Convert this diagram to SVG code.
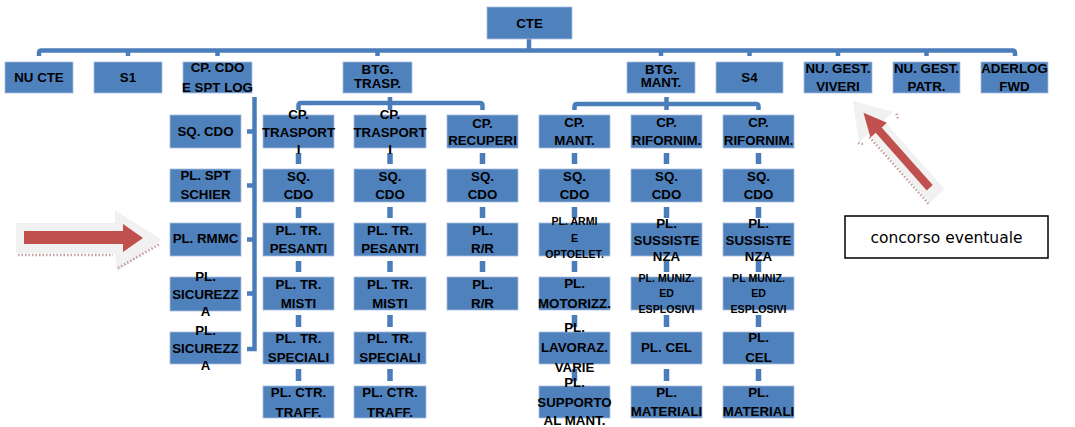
<svg xmlns="http://www.w3.org/2000/svg" width="1075" height="427" viewBox="0 0 1075 427">
<style>
.box{fill:#4F81BD;stroke:#A7BEDD;stroke-width:0.8}
.t{font-family:"Liberation Sans",Arial,sans-serif;font-weight:bold;font-size:13.3px;text-anchor:middle;fill:#000}
.s{font-size:10.6px}
.c{fill:none;stroke:#4A7DBA;stroke-width:4.5}
.v{stroke:#4A7DBA;stroke-width:5.5}
.n{font-family:"DejaVu Sans",Verdana,sans-serif;font-size:15.5px;text-anchor:middle;fill:#000}
</style>
<rect width="1075" height="427" fill="#fff"/>
<g id="connectors">
<path class="c" d="M39,56 V53 Q39,50.5 41.5,50.5 H1012.5 Q1015,50.5 1015,53 V56"/>
<path class="c" d="M529,39 V50 M128,50 V56 M217.5,50 V56 M377.5,50 V56 M661,50 V56 M749.5,50 V56 M838,50 V56 M926.5,50 V56"/>
<path class="c" d="M254.5,97 V349 H247 M247,131.5 H254.5 M247,185.5 H254.5 M247,239.5 H254.5 M247,293.5 H254.5"/>
<path class="c" d="M298.5,110 V105.5 Q298.5,103 301,103 H480 Q482.5,103 482.5,105.5 V110 M390,97 V110"/>
<path class="c" d="M574.5,110 V106.5 Q574.5,104 577,104 H756 Q758.5,104 758.5,106.5 V110 M666.5,97 V110"/>
<path class="v" d="M298.5,153 V164 M298.5,207 V218 M298.5,261 V272 M298.5,315 V327 M298.5,369 V381"/>
<path class="v" d="M390,153 V164 M390,207 V218 M390,261 V272 M390,315 V327 M390,369 V381"/>
<path class="v" d="M482.5,153 V164 M482.5,207 V218 M482.5,261 V272"/>
<path class="v" d="M574.5,153 V164 M574.5,207 V218 M574.5,261 V272 M574.5,315 V327 M574.5,369 V381"/>
<path class="v" d="M666.5,153 V164 M666.5,207 V218 M666.5,261 V272 M666.5,315 V327 M666.5,369 V381"/>
<path class="v" d="M758.5,153 V164 M758.5,207 V218 M758.5,261 V272 M758.5,315 V327 M758.5,369 V381"/>
</g>
<g id="cte"><rect class="box" x="487" y="7" width="85" height="32"/><text class="t" x="529.5" y="27.7">CTE</text></g>
<g id="nucte"><rect class="box" x="5" y="62" width="68" height="31"/><text class="t" x="39" y="82">NU CTE</text></g>
<g id="s1"><rect class="box" x="94" y="62" width="68" height="31"/><text class="t" x="128" y="82">S1</text></g>
<g id="cpcdo"><rect class="box" x="183" y="62" width="69" height="31"/><text class="t" x="217.5" y="72">CP. CDO</text><text class="t" x="217.5" y="91.5">E SPT LOG</text></g>
<g id="btgtrasp"><rect class="box" x="343" y="62" width="69" height="31"/><text class="t" x="377.5" y="74">BTG.</text><text class="t" x="377.5" y="87.5">TRASP.</text></g>
<g id="btgmant"><rect class="box" x="627" y="62" width="68" height="31"/><text class="t" x="661" y="73.5">BTG.</text><text class="t" x="661" y="86.5">MANT.</text></g>
<g id="s4"><rect class="box" x="716" y="62" width="67" height="31"/><text class="t" x="749.5" y="82">S4</text></g>
<g id="viveri"><rect class="box" x="804" y="62" width="68" height="31"/><text class="t" x="838" y="73.3">NU. GEST.</text><text class="t" x="838" y="90.6">VIVERI</text></g>
<g id="patr"><rect class="box" x="893" y="62" width="67" height="31"/><text class="t" x="926.5" y="73.3">NU. GEST.</text><text class="t" x="926.5" y="90.6">PATR.</text></g>
<g id="aderlog"><rect class="box" x="981" y="62" width="67" height="31"/><text class="t" x="1014.5" y="73.3">ADERLOG</text><text class="t" x="1014.5" y="90.6">FWD</text></g>

<g id="l1"><rect class="box" x="170" y="115" width="71" height="33"/><text class="t" x="205.5" y="136">SQ. CDO</text></g>
<g id="l2"><rect class="box" x="170" y="169" width="71" height="33"/><text class="t" x="205.5" y="179.7">PL. SPT</text><text class="t" x="205.5" y="198.7">SCHIER</text></g>
<g id="l3"><rect class="box" x="170" y="223" width="71" height="33"/><text class="t" x="205.5" y="242.7">PL. RMMC</text></g>
<g id="l4"><rect class="box" x="170" y="277" width="71" height="34"/><text class="t" x="205.5" y="281">PL.</text><text class="t" x="205.5" y="298.5">SICUREZZ</text><text class="t" x="205.5" y="316">A</text></g>
<g id="l5"><rect class="box" x="170" y="332" width="71" height="32"/><text class="t" x="205.5" y="335">PL.</text><text class="t" x="205.5" y="352.5">SICUREZZ</text><text class="t" x="205.5" y="370">A</text></g>

<g id="a1"><rect class="box" x="263" y="115" width="71" height="33"/><text class="t" x="298.5" y="119">CP.</text><text class="t" x="298.5" y="136.5">TRASPORT</text><text class="t" x="298.5" y="153.5">I</text></g>
<g id="a2"><rect class="box" x="263" y="169" width="71" height="33"/><text class="t" x="298.5" y="180.7">SQ.</text><text class="t" x="298.5" y="198.7">CDO</text></g>
<g id="a3"><rect class="box" x="263" y="223" width="71" height="33"/><text class="t" x="298.5" y="234.7">PL. TR.</text><text class="t" x="298.5" y="252.7">PESANTI</text></g>
<g id="a4"><rect class="box" x="263" y="277" width="71" height="33"/><text class="t" x="298.5" y="288.7">PL. TR.</text><text class="t" x="298.5" y="307.7">MISTI</text></g>
<g id="a5"><rect class="box" x="263" y="332" width="71" height="32"/><text class="t" x="298.5" y="342.7">PL. TR.</text><text class="t" x="298.5" y="361.7">SPECIALI</text></g>
<g id="a6"><rect class="box" x="263" y="386" width="71" height="32"/><text class="t" x="298.5" y="396.7">PL. CTR.</text><text class="t" x="298.5" y="416.7">TRAFF.</text></g>

<g id="b1"><rect class="box" x="354" y="115" width="72" height="33"/><text class="t" x="390" y="119">CP.</text><text class="t" x="390" y="136.5">TRASPORT</text><text class="t" x="390" y="153.5">I</text></g>
<g id="b2"><rect class="box" x="354" y="169" width="72" height="33"/><text class="t" x="390" y="180.7">SQ.</text><text class="t" x="390" y="198.7">CDO</text></g>
<g id="b3"><rect class="box" x="354" y="223" width="72" height="33"/><text class="t" x="390" y="234.7">PL. TR.</text><text class="t" x="390" y="252.7">PESANTI</text></g>
<g id="b4"><rect class="box" x="354" y="277" width="72" height="33"/><text class="t" x="390" y="288.7">PL. TR.</text><text class="t" x="390" y="307.7">MISTI</text></g>
<g id="b5"><rect class="box" x="354" y="332" width="72" height="32"/><text class="t" x="390" y="342.7">PL. TR.</text><text class="t" x="390" y="361.7">SPECIALI</text></g>
<g id="b6"><rect class="box" x="354" y="386" width="72" height="32"/><text class="t" x="390" y="396.7">PL. CTR.</text><text class="t" x="390" y="416.7">TRAFF.</text></g>

<g id="c1"><rect class="box" x="447" y="115" width="71" height="33"/><text class="t" x="482.5" y="127.7">CP.</text><text class="t" x="482.5" y="144.7">RECUPERI</text></g>
<g id="c2"><rect class="box" x="447" y="169" width="71" height="33"/><text class="t" x="482.5" y="180.7">SQ.</text><text class="t" x="482.5" y="198.7">CDO</text></g>
<g id="c3"><rect class="box" x="447" y="223" width="71" height="33"/><text class="t" x="482.5" y="234.7">PL.</text><text class="t" x="482.5" y="252.7">R/R</text></g>
<g id="c4"><rect class="box" x="447" y="277" width="71" height="33"/><text class="t" x="482.5" y="288.7">PL.</text><text class="t" x="482.5" y="307.7">R/R</text></g>

<g id="d1"><rect class="box" x="539" y="115" width="71" height="33"/><text class="t" x="574.5" y="126.7">CP.</text><text class="t" x="574.5" y="144.7">MANT.</text></g>
<g id="d2"><rect class="box" x="539" y="169" width="71" height="33"/><text class="t" x="574.5" y="180.7">SQ.</text><text class="t" x="574.5" y="198.7">CDO</text></g>
<g id="d3"><rect class="box" x="539" y="223" width="71" height="33"/><text class="t s" x="574.5" y="225.3">PL. ARMI</text><text class="t s" x="574.5" y="241.8">E</text><text class="t s" x="574.5" y="258.3">OPTOELET.</text></g>
<g id="d4"><rect class="box" x="539" y="277" width="71" height="33"/><text class="t" x="574.5" y="287.7">PL.</text><text class="t" x="574.5" y="307.7">MOTORIZZ.</text></g>
<g id="d5"><rect class="box" x="539" y="332" width="71" height="32"/><text class="t" x="574.5" y="331.7">PL.</text><text class="t" x="574.5" y="352.2">LAVORAZ.</text><text class="t" x="574.5" y="371.7">VARIE</text></g>
<g id="d6"><rect class="box" x="539" y="386" width="71" height="32"/><text class="t" x="574.5" y="386.7">PL.</text><text class="t" x="574.5" y="406.7">SUPPORTO</text><text class="t" x="574.5" y="424.7">AL MANT.</text></g>

<g id="e1"><rect class="box" x="631" y="115" width="71" height="33"/><text class="t" x="666.5" y="126.7">CP.</text><text class="t" x="666.5" y="144.7">RIFORNIM.</text></g>
<g id="e2"><rect class="box" x="631" y="169" width="71" height="33"/><text class="t" x="666.5" y="180.7">SQ.</text><text class="t" x="666.5" y="198.7">CDO</text></g>
<g id="e3"><rect class="box" x="631" y="223" width="71" height="33"/><text class="t" x="666.5" y="227.7">PL.</text><text class="t" x="666.5" y="245.2">SUSSISTE</text><text class="t" x="666.5" y="260.7">NZA</text></g>
<g id="e4"><rect class="box" x="631" y="277" width="71" height="33"/><text class="t s" x="666.5" y="281.8">PL. MUNIZ.</text><text class="t s" x="666.5" y="296.8">ED</text><text class="t s" x="666.5" y="312.8">ESPLOSIVI</text></g>
<g id="e5"><rect class="box" x="631" y="332" width="71" height="32"/><text class="t" x="666.5" y="351.7">PL. CEL</text></g>
<g id="e6"><rect class="box" x="631" y="386" width="71" height="32"/><text class="t" x="666.5" y="396.7">PL.</text><text class="t" x="666.5" y="415.7">MATERIALI</text></g>

<g id="f1"><rect class="box" x="723" y="115" width="71" height="33"/><text class="t" x="758.5" y="126.7">CP.</text><text class="t" x="758.5" y="144.7">RIFORNIM.</text></g>
<g id="f2"><rect class="box" x="723" y="169" width="71" height="33"/><text class="t" x="758.5" y="180.7">SQ.</text><text class="t" x="758.5" y="198.7">CDO</text></g>
<g id="f3"><rect class="box" x="723" y="223" width="71" height="33"/><text class="t" x="758.5" y="227.7">PL.</text><text class="t" x="758.5" y="245.2">SUSSISTE</text><text class="t" x="758.5" y="260.7">NZA</text></g>
<g id="f4"><rect class="box" x="723" y="277" width="71" height="33"/><text class="t s" x="758.5" y="281.8">PL MUNIZ.</text><text class="t s" x="758.5" y="296.8">ED</text><text class="t s" x="758.5" y="312.8">ESPLOSIVI</text></g>
<g id="f5"><rect class="box" x="723" y="332" width="71" height="32"/><text class="t" x="758.5" y="341.7">PL.</text><text class="t" x="758.5" y="361.7">CEL</text></g>
<g id="f6"><rect class="box" x="723" y="386" width="71" height="32"/><text class="t" x="758.5" y="396.7">PL.</text><text class="t" x="758.5" y="415.7">MATERIALI</text></g>

<g id="arrow-left">
<polygon points="16,223 115,223 115,210 162,240 117,272 115,253 16,253" fill="#F1F1F1"/>
<path d="M18,255 H113 M118,268 L160,244" fill="none" stroke="#B88787" stroke-width="2.5" stroke-dasharray="1.5 2" opacity="0.8"/>
<polygon points="24,231 123,231 123,224 143,238 123,252 123,244 24,244" fill="#C0504D"/>
</g>
<g id="arrow-right" transform="translate(937,196) rotate(228.5)">
<polygon points="0,-10 92,-10 92,-23 127,0 92,23 92,10 0,10" fill="#F1F1F1"/>
<path d="M0,-11.5 H90 M88,-21 L92,-24 M84,22 L90,25" fill="none" stroke="#B88787" stroke-width="2.5" stroke-dasharray="1.5 2" opacity="0.8"/>
<polygon points="11,-4 88,-4 88,-11 111,0 88,11 88,4 11,4" fill="#C0504D"/>
</g>
<g id="note">
<rect x="845" y="216" width="203" height="42" fill="#fff" stroke="#000" stroke-width="1.5"/>
<text class="n" x="946.5" y="243">concorso eventuale</text>
</g>
</svg>
